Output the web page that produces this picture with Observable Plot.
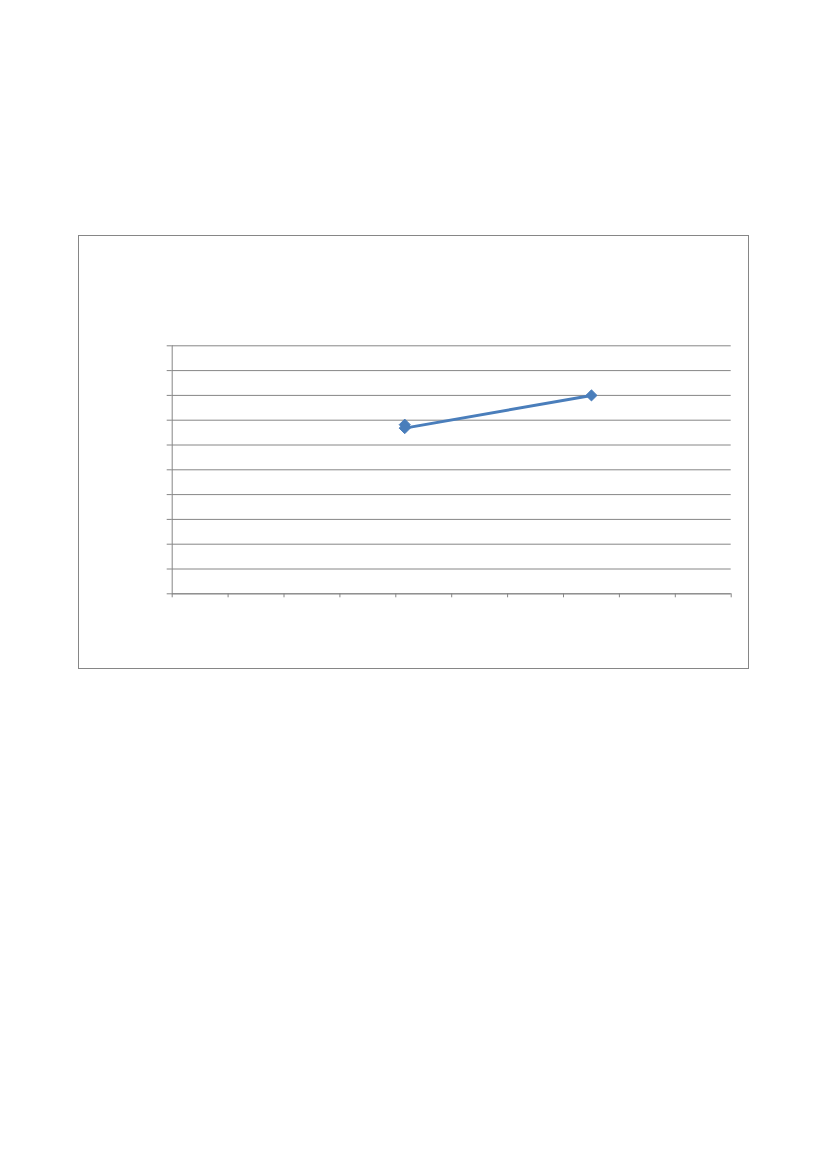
<!DOCTYPE html>
<html>
<head>
<meta charset="utf-8">
<script src="https://cdn.jsdelivr.net/npm/d3@7"></script>
<script src="https://cdn.jsdelivr.net/npm/@observablehq/plot@0.6"></script>
<style>
  html, body { margin: 0; padding: 0; background: #fff; }
  #wrap { position: relative; width: 827px; height: 1169px; }
  #box { position: absolute; left: 78px; top: 235px; width: 669px; height: 432px; border: 1px solid #868686; }
  #chart { position: absolute; left: 0; top: 0; }
</style>
</head>
<body>
<div id="wrap">
  <div id="box"></div>
  <div id="chart"></div>
</div>
<script>
const xValues = [4.16, 4.16, 7.5];
const yValues = [6.82, 6.68, 8.0];
const xTicks = [0, 1, 2, 3, 4, 5, 6, 7, 8, 9, 10];
const yTicks = [0, 1, 2, 3, 4, 5, 6, 7, 8, 9, 10];

const data = xValues.map((x, i) => ({x, y: yValues[i]}));

const chart = Plot.plot({
  width: 827,
  height: 1169,
  marginLeft: 171.7,
  marginRight: 96.3,
  marginTop: 345.3,
  marginBottom: 575.7,
  style: { background: "transparent", fontFamily: "Liberation Sans, Arial, sans-serif" },
  x: { domain: [0, 10], axis: null, label: null },
  y: { domain: [0, 10], axis: null, label: null },
  marks: [
    Plot.gridY(yTicks, { stroke: "#868686", strokeOpacity: 1, strokeWidth: 1 }),
    Plot.ruleX([0], { stroke: "#868686", strokeWidth: 1 }),
    Plot.ruleY([0], { stroke: "#868686", strokeWidth: 1 }),
    Plot.axisY(yTicks, { tickSize: 5, tickFormat: () => "", label: null, stroke: "#868686" }),
    Plot.axisX(xTicks, { tickSize: 4, tickFormat: () => "", label: null, stroke: "#868686" }),
    Plot.line(data, { x: "x", y: "y", stroke: "#4a7ebb", strokeWidth: 3 }),
    Plot.dot(data, { x: "x", y: "y", symbol: "diamond2", r: 5, fill: "#4a7ebb", stroke: "#4a7ebb", strokeWidth: 1 })
  ]
});
document.getElementById("chart").appendChild(chart);
</script>
</body>
</html>
